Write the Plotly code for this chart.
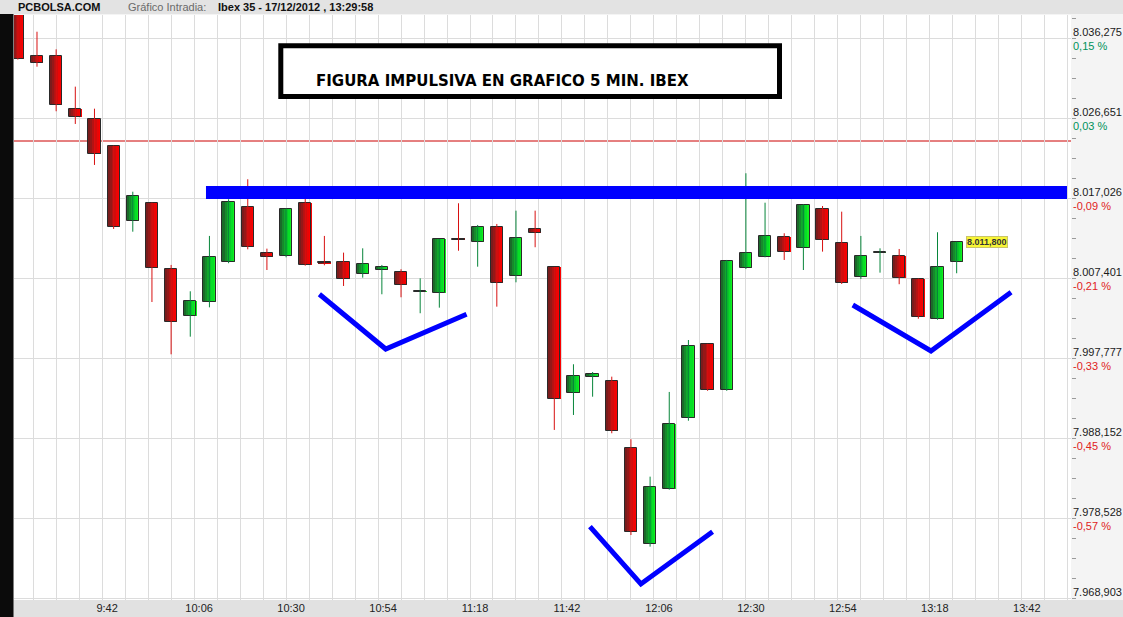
import plotly.graph_objects as go

# ---------------- data ----------------
TIMES = ["09:20", "09:25", "09:30", "09:35", "09:40", "09:45", "09:50", "09:55",
         "10:00", "10:05", "10:10", "10:15", "10:20", "10:25", "10:30", "10:35",
         "10:40", "10:45", "10:50", "10:55", "11:00", "11:05", "11:10", "11:15",
         "11:20", "11:25", "11:30", "11:35", "11:40", "11:45", "11:50", "11:55",
         "12:00", "12:05", "12:10", "12:15", "12:20", "12:25", "12:30", "12:35",
         "12:40", "12:45", "12:50", "12:55", "13:00", "13:05", "13:10", "13:15",
         "13:20", "13:25"]
OPEN = [8040.50, 8034.23, 8034.23, 8027.85, 8026.65, 8023.40, 8014.34, 8016.51,
        8008.57, 8002.91, 8004.67, 8009.41, 8016.03, 8010.49, 8010.21, 8016.51,
        8009.40, 8009.45, 8007.97, 8008.45, 8008.21, 8005.85, 8005.75, 8012.25,
        8011.89, 8013.69, 8007.80, 8013.42, 8008.81, 7993.65, 7995.65, 7995.09,
        7987.03, 7975.49, 7982.10, 7990.64, 7999.54, 7994.01, 8008.69, 8010.09,
        8012.42, 8011.09, 8015.79, 8011.70, 8007.60, 8010.55, 8010.13, 8007.40,
        8002.55, 8009.41]
HIGH = [8041.00, 8037.15, 8035.03, 8030.54, 8027.89, 8023.45, 8017.90, 8016.60,
        8009.09, 8005.92, 8012.58, 8016.99, 8019.40, 8011.05, 8015.90, 8017.50,
        8012.58, 8010.57, 8011.09, 8009.09, 8008.57, 8007.48, 8012.20, 8016.51,
        8013.90, 8014.02, 8015.62, 8015.62, 8008.85, 7997.14, 7996.21, 7995.65,
        7988.12, 7983.62, 7993.81, 8000.06, 7999.60, 8009.69, 8020.12, 8016.58,
        8012.90, 8016.40, 8016.18, 8015.50, 8012.58, 8011.09, 8011.01, 8007.45,
        8013.02, 8011.89]
LOW = [8033.80, 8032.94, 8027.58, 8026.05, 8021.12, 8013.42, 8013.09, 8004.63,
       7998.34, 8000.46, 8003.99, 8009.30, 8010.97, 8008.48, 8010.01, 8009.00,
       8009.05, 8006.56, 8007.56, 8005.56, 8005.20, 8003.28, 8003.95, 8010.80,
       8008.88, 8004.07, 8007.00, 8011.22, 7989.24, 7991.04, 7993.24, 7988.84,
       7976.60, 7975.20, 7982.05, 7990.35, 7993.95, 7993.95, 8008.60, 8010.01,
       8009.69, 8008.48, 8010.69, 8006.80, 8007.40, 8008.16, 8006.77, 8002.62,
       8002.50, 8008.09]
CLOSE = [8033.83, 8033.35, 8028.30, 8026.85, 8022.40, 8013.69, 8017.35, 8008.69,
         8002.26, 8004.72, 8010.01, 8016.66, 8011.29, 8010.09, 8015.79, 8009.05,
         8009.30, 8007.44, 8009.17, 8008.81, 8006.64, 8005.90, 8012.18, 8012.15,
         8013.69, 8006.88, 8012.29, 8012.90, 7992.93, 7995.70, 7995.97, 7989.08,
         7976.93, 7982.34, 7989.92, 7999.30, 7994.01, 8009.53, 8010.49, 8012.54,
         8010.61, 8016.30, 8012.06, 8006.88, 8010.21, 8010.60, 8007.49, 8002.87,
         8008.81, 8011.80]

PREV_CLOSE = 8024.0
LAST_PRICE = 8011.80
LAST_PRICE_TEXT = "8.011,800"

Y_TICK_VALUES = [7968.903, 7978.528, 7988.152, 7997.777, 8007.401, 8017.026, 8026.651, 8036.275]
Y_TICK_LABELS = ["7.968,903", "7.978,528", "7.988,152", "7.997,777", "8.007,401",
                 "8.017,026", "8.026,651", "8.036,275"]
Y_TICK_PCT = ["", "-0,57 %", "-0,45 %", "-0,33 %", "-0,21 %", "-0,09 %", "0,03 %", "0,15 %"]

X_TICK_TIMES = ["09:42", "10:06", "10:30", "10:54", "11:18", "11:42", "12:06",
                "12:30", "12:54", "13:18", "13:42"]
X_TICK_LABELS = ["9:42", "10:06", "10:30", "10:54", "11:18", "11:42", "12:06",
                 "12:30", "12:54", "13:18", "13:42"]

# resistance band (hand drawn) : minutes after midnight, price centre, half thickness
RESIST_T = [609.1, 833.8]
RESIST_P = 8017.81
RESIST_HALF = 0.78

# hand drawn blue "V" marks (minutes after midnight, price)
V1_T = [638.7, 656.0, 677.1]
V1_P = [8005.56, 7998.98, 8003.15]
V2_T = [709.3, 722.6, 741.3]
V2_P = [7977.60, 7970.71, 7977.00]
V3_T = [777.9, 798.3, 819.2]
V3_P = [8004.27, 7998.74, 8005.80]

TITLE = "FIGURA IMPULSIVA EN GRAFICO 5 MIN. IBEX"

# ---------------- helpers / styles ----------------
def to_min(s):
    h, m = s.split(":")
    return int(h) * 60 + int(m)

FONT = "Liberation Sans, Arial, sans-serif"
W_PX, H_PX = 1123, 617
ML, MR, MT, MB = 14, 52, 15, 17
PW = W_PX - ML - MR
PH = H_PX - MT - MB

def px(xp):
    return (xp - ML) / PW

def py(yp):
    return (H_PX - MB - yp) / PH

X_RANGE = [559.0, 834.84]
Y_RANGE = [7968.78, 8039.16]

BODY_W = 3.2
RED_GRAD = ["#7a1c1c", "#951818", "#b31313", "#d20c0c", "#ec0505", "#fd0000"]
GREEN_GRAD = ["#1b6a2a", "#168a2c", "#10a92c", "#0ac72a", "#06df26", "#12f020"]
RED_WICK = "#d81010"
GREEN_WICK = "#07853a"

xs = [to_min(t) for t in TIMES]

fig = go.Figure()

# wicks
for want_up, wcol in ((True, GREEN_WICK), (False, RED_WICK)):
    wx, wy = [], []
    for x, o, h, l, c in zip(xs, OPEN, HIGH, LOW, CLOSE):
        if (c >= o) == want_up:
            wx += [x, x, None]
            wy += [l, h, None]
    fig.add_trace(go.Scatter(x=wx, y=wy, mode="lines", line=dict(color=wcol, width=1),
                             hoverinfo="skip", showlegend=False))

# bodies with horizontal gradient (strips)
N = len(RED_GRAD)
for want_up, grad in ((True, GREEN_GRAD), (False, RED_GRAD)):
    bx, bb, bh = [], [], []
    for x, o, c in zip(xs, OPEN, CLOSE):
        if (c >= o) == want_up:
            bx.append(x)
            bb.append(min(o, c))
            bh.append(max(abs(c - o), 0.02))
    for i, col in enumerate(grad):
        fig.add_trace(go.Bar(x=bx, y=bh, base=bb, width=BODY_W / N + 0.05,
                             offset=-BODY_W / 2 + i * BODY_W / N,
                             marker=dict(color=col, line=dict(width=0)),
                             hoverinfo="skip", showlegend=False))

# body outlines
fig.add_trace(go.Bar(x=xs, y=[max(abs(c - o), 0.02) for o, c in zip(OPEN, CLOSE)],
                     base=[min(o, c) for o, c in zip(OPEN, CLOSE)],
                     width=BODY_W, offset=-BODY_W / 2,
                     marker=dict(color="rgba(0,0,0,0)", line=dict(color="#2a2a2a", width=1)),
                     hoverinfo="skip", showlegend=False))

# blue V marks
for vt, vp in ((V1_T, V1_P), (V2_T, V2_P), (V3_T, V3_P)):
    fig.add_trace(go.Scatter(x=vt, y=vp, mode="lines", line=dict(color="#0000ff", width=5),
                             hoverinfo="skip", showlegend=False))

ticktext = []
for lab, pct in zip(Y_TICK_LABELS, Y_TICK_PCT):
    if pct:
        col = "#00925a" if not pct.startswith("-") else "#e02222"
        ticktext.append(f"{lab}<br><span style='color:{col}'>{pct}</span>")
    else:
        ticktext.append(f"{lab}<br><span style='color:rgba(0,0,0,0)'>0</span>")

shapes = [
    # header band
    dict(type="rect", xref="paper", yref="paper", x0=px(0), x1=px(W_PX), y0=py(14), y1=py(0),
         fillcolor="#e3e3e3", line=dict(width=0), layer="below"),
    # bottom band
    dict(type="rect", xref="paper", yref="paper", x0=px(0), x1=px(W_PX), y0=py(H_PX), y1=py(H_PX - MB),
         fillcolor="#e1e1e1", line=dict(width=0), layer="below"),
    # left dark frame
    dict(type="rect", xref="paper", yref="paper", x0=px(0), x1=px(13.5), y0=py(H_PX), y1=py(14),
         fillcolor="#0b0b0b", line=dict(width=0), layer="above"),
    # previous close line
    dict(type="line", xref="paper", yref="y", x0=0, x1=1, y0=PREV_CLOSE, y1=PREV_CLOSE,
         line=dict(color="#cc0000", width=1), layer="below"),
    # resistance band
    dict(type="rect", xref="x", yref="y", x0=RESIST_T[0], x1=RESIST_T[1],
         y0=RESIST_P - RESIST_HALF, y1=RESIST_P + RESIST_HALF,
         fillcolor="#0000ff", line=dict(width=0), layer="above"),
    # title box
    dict(type="rect", xref="paper", yref="paper", x0=px(280.8), x1=px(779.5), y0=py(96.5), y1=py(45.8),
         fillcolor="white", line=dict(color="black", width=5), layer="above"),
]

annotations = [
    dict(text=TITLE, xref="paper", yref="paper", x=px(502), y=py(70), showarrow=False,
         font=dict(family="DejaVu Sans, Liberation Sans, sans-serif", size=15, color="black",
                   weight="bold")),
    dict(text="PCBOLSA.COM", xref="paper", yref="paper", x=px(16), y=py(7), xanchor="left",
         yanchor="middle", showarrow=False, font=dict(family=FONT, size=11, color="#111", weight="bold")),
    dict(text="Gráfico Intradia:", xref="paper", yref="paper", x=px(126), y=py(7), xanchor="left",
         yanchor="middle", showarrow=False, font=dict(family=FONT, size=11, color="#6a6a6a")),
    dict(text="Ibex 35 - 17/12/2012 , 13:29:58", xref="paper", yref="paper", x=px(216), y=py(7),
         xanchor="left", yanchor="middle", showarrow=False,
         font=dict(family=FONT, size=11, color="#111", weight="bold")),
    dict(text=LAST_PRICE_TEXT, xref="x", yref="y", x=xs[-1], y=LAST_PRICE, xanchor="left",
         yanchor="middle", xshift=9, showarrow=False, bgcolor="#f8f535", bordercolor="#c9c46a",
         borderwidth=1, borderpad=0, font=dict(family=FONT, size=9, color="#333", weight="bold")),
]

fig.update_layout(
    width=W_PX, height=H_PX, autosize=False,
    margin=dict(l=ML, r=MR, t=MT, b=MB, pad=0, autoexpand=False),
    paper_bgcolor="#f4f4f4", plot_bgcolor="white",
    barmode="overlay", bargap=0, showlegend=False,
    shapes=shapes, annotations=annotations,
    font=dict(family=FONT, size=11, color="#1a1a1a"),
    xaxis=dict(range=X_RANGE, type="linear", automargin=False,
               tickvals=[to_min(t) for t in X_TICK_TIMES], ticktext=X_TICK_LABELS,
               showgrid=True, gridcolor="#dcdcdc", gridwidth=1,
               minor=dict(dtick=6, tick0=0, showgrid=True, gridcolor="#dcdcdc", gridwidth=1),
               ticks="", ticklabelshift=5, zeroline=False, showline=False,
               tickfont=dict(family=FONT, size=11, color="#222")),
    yaxis=dict(range=Y_RANGE, side="right", automargin=False,
               tickvals=Y_TICK_VALUES, ticktext=ticktext, ticklabelstandoff=1,
               showgrid=True, gridcolor="#dcdcdc", gridwidth=1, ticks="",
               minor=dict(ticks="outside", ticklen=4, tickcolor="#9a9a9a",
                          dtick=(Y_TICK_VALUES[1] - Y_TICK_VALUES[0]) / 4, tick0=Y_TICK_VALUES[0],
                          showgrid=False),
               zeroline=False, showline=False,
               tickfont=dict(family=FONT, size=11, color="#1a1a1a")),
)

fig.write_html("out.html", config={"displayModeBar": False, "responsive": False})

# remove the browser's default page margin so the figure sits at (0, 0)
with open("out.html", encoding="utf-8") as f:
    html = f.read()
style = "<style>html,body{margin:0;padding:0;overflow:hidden;}</style>"
html = html.replace("</head>", style + "</head>", 1)
with open("out.html", "w", encoding="utf-8") as f:
    f.write(html)
